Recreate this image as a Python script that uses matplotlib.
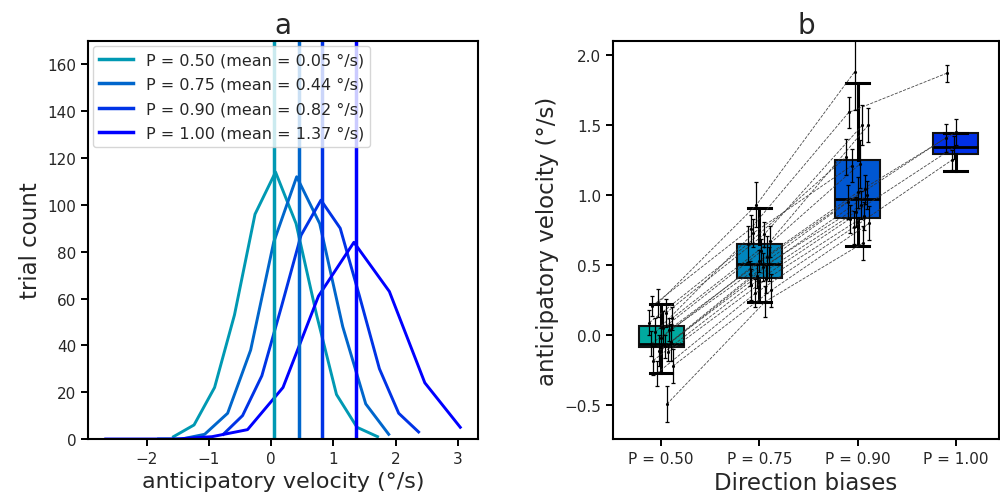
import numpy as np
import matplotlib
matplotlib.use("Agg")
import matplotlib.pyplot as plt
from matplotlib import cm

# ---------------- data: panel a (histograms) ----------------
labels_a = ["P = 0.50 (mean = 0.05 °/s)", "P = 0.75 (mean = 0.44 °/s)",
            "P = 0.90 (mean = 0.82 °/s)", "P = 1.00 (mean = 1.37 °/s)"]
means_a = [0.05, 0.44, 0.82, 1.37]
x_p50 = [-1.57, -1.24, -0.91, -0.59, -0.26, 0.07, 0.40, 0.73, 1.05, 1.38, 1.71]
y_p50 = [1, 6, 22, 53, 96, 114, 92, 53, 19, 5, 1]
x_p75 = [-1.81, -1.44, -1.07, -0.70, -0.33, 0.04, 0.41, 0.78, 1.15, 1.52, 1.89]
y_p75 = [0, 0, 2, 11, 38, 84, 112, 92, 48, 15, 2]
x_p90 = [-0.77, -0.46, -0.15, 0.17, 0.48, 0.80, 1.11, 1.42, 1.74, 2.05, 2.37]
y_p90 = [2, 10, 27, 57, 87, 102, 90, 61, 30, 11, 3]
x_p100 = [-2.66, -2.09, -1.52, -0.95, -0.38, 0.19, 0.76, 1.33, 1.90, 2.47, 3.04]
y_p100 = [0, 0, 0, 1, 4, 22, 61, 84, 63, 24, 5]

# ---------------- data: panel b (subjects) ----------------
conditions = ["P = 0.50", "P = 0.75", "P = 0.90", "P = 1.00"]
nan = np.nan
subj_p50 = [0.23, 0.21, 0.16, 0.12, 0.09, 0.05, 0.04, 0.02, -0.02, -0.05, -0.06, -0.08, -0.11, -0.12, -0.18, -0.22, -0.27, -0.49]
subj_p75 = [0.93, 0.76, 0.72, 0.67, 0.65, 0.60, 0.56, 0.73, 0.53, 0.51, 0.44, 0.49, 0.42, 0.40, 0.36, 0.32, 0.30, 0.24]
subj_p90 = [1.88, 1.59, 1.50, 1.50, 1.27, 1.22, 1.04, 1.21, 1.02, 1.00, 0.95, 0.93, 0.88, 0.85, 0.83, 0.80, 0.77, 0.66]
subj_p100 = [nan, 1.87, nan, nan, nan, nan, nan, nan, 1.45, nan, 1.41, nan, 1.34, nan, nan, nan, 1.25, nan]
err_p50 = [0.10, 0.07, 0.10, 0.08, 0.09, 0.12, 0.08, 0.10, 0.07, 0.13, 0.09, 0.08, 0.11, 0.06, 0.10, 0.12, 0.09, 0.13]
err_p75 = [0.16, 0.10, 0.09, 0.11, 0.13, 0.09, 0.15, 0.10, 0.08, 0.12, 0.09, 0.10, 0.08, 0.10, 0.11, 0.12, 0.10, 0.11]
err_p90 = [0.27, 0.11, 0.14, 0.12, 0.13, 0.17, 0.10, 0.12, 0.11, 0.10, 0.12, 0.10, 0.11, 0.10, 0.10, 0.12, 0.12, 0.12]
err_p100 = [nan, 0.06, nan, nan, nan, nan, nan, nan, 0.09, nan, 0.10, nan, 0.08, nan, nan, nan, 0.07, nan]
jitter = [-0.03, -0.09, 0.05, 0.11, -0.12, 0.02, 0.08, -0.06, 0.00, 0.10, -0.10, 0.04, -0.02, 0.07, -0.08, 0.12, -0.04, 0.06]

# box statistics
box_q1 = [-0.086, 0.41, 0.84, 1.29]
box_med = [-0.064, 0.51, 0.97, 1.34]
box_q3 = [0.064, 0.65, 1.25, 1.44]
box_lo = [-0.27, 0.24, 0.64, 1.17]
box_hi = [0.22, 0.91, 1.80, 1.44]

# ---------------- style ----------------
plt.rcParams["font.family"] = ["DejaVu Sans"]
text_c = "#262626"
plt.rcParams["text.color"] = text_c
plt.rcParams["axes.labelcolor"] = text_c
plt.rcParams["xtick.color"] = text_c
plt.rcParams["ytick.color"] = text_c

line_colors = [cm.winter(0.6), cm.winter(0.4), cm.winter(0.2), cm.winter(0.0)]
box_colors = ["#00a99f", "#0086bd", "#0057d2", "#0030e6"]

fig = plt.figure(figsize=(10, 5.02), dpi=100)
ax1 = fig.add_axes([0.088, 0.1235, 0.390, 0.793])
ax2 = fig.add_axes([0.613, 0.1235, 0.386, 0.793])

for ax in (ax1, ax2):
    for s in ax.spines.values():
        s.set_linewidth(1.5)
        s.set_color("black")
    ax.tick_params(axis="both", which="major", length=5, width=1.4,
                   labelsize=11, color="black", direction="out")

# ---------------- panel a ----------------
xs = [x_p50, x_p75, x_p90, x_p100]
ys = [y_p50, y_p75, y_p90, y_p100]
for x, y, c in zip(xs, ys, line_colors):
    ax1.plot(x, y, color=c, lw=2.1)
for m, c, lab in zip(means_a, line_colors, labels_a):
    ax1.axvline(m, color=c, lw=2.5, label=lab)
ax1.set_ylim(0, 170)
ax1.set_yticks(np.arange(0, 161, 20))
ax1.set_xticks([-2, -1, 0, 1, 2, 3])
ax1.set_xlabel("anticipatory velocity (°/s)", fontsize=16)
ax1.set_ylabel("trial count", fontsize=16.5)
ax1.set_title("a", fontsize=20)
leg = ax1.legend(loc="upper left", fontsize=11.5, handlelength=2.1,
                 labelspacing=0.6, borderaxespad=0.3, framealpha=0.8)

# ---------------- panel b ----------------
positions = [1, 2, 3, 4]
stats = []
for i in range(4):
    stats.append(dict(q1=box_q1[i], med=box_med[i], q3=box_q3[i],
                      whislo=box_lo[i], whishi=box_hi[i], fliers=[]))
bp = ax2.bxp(stats, positions=positions, widths=0.46, patch_artist=True,
             showfliers=False,
             boxprops=dict(linewidth=1.5, edgecolor="#111111"),
             medianprops=dict(color="black", linewidth=2),
             whiskerprops=dict(color="black", linewidth=2.2),
             capprops=dict(color="black", linewidth=2.2))
for patch, c in zip(bp["boxes"], box_colors):
    patch.set_facecolor(c)
    patch.set_zorder(1)

subj = np.array([subj_p50, subj_p75, subj_p90, subj_p100]).T
errs = np.array([err_p50, err_p75, err_p90, err_p100]).T
jit = np.array(jitter)
for k in range(subj.shape[0]):
    xk = np.array(positions) + jit[k]
    vals = subj[k]
    ok = ~np.isnan(vals)
    ax2.plot(xk[ok], vals[ok], ls="--", lw=0.6, color="#333333", alpha=0.9,
             zorder=3)
    ax2.errorbar(xk[ok], vals[ok], yerr=errs[k][ok], fmt=".", ms=2.5,
                 color="black", ecolor="black", elinewidth=0.9, capsize=1.5,
                 capthick=0.9, zorder=4)

ax2.set_xlim(0.51, 4.44)
ax2.set_ylim(-0.74, 2.1)
ax2.set_xticks(positions)
ax2.set_xticklabels(conditions)
ax2.set_yticks([-0.5, 0.0, 0.5, 1.0, 1.5, 2.0])
ax2.set_xlabel("Direction biases", fontsize=16.5)
ax2.set_ylabel("anticipatory velocity (°/s)", fontsize=16.5)
ax2.set_title("b", fontsize=20)

fig.savefig("out.png", dpi=100)
